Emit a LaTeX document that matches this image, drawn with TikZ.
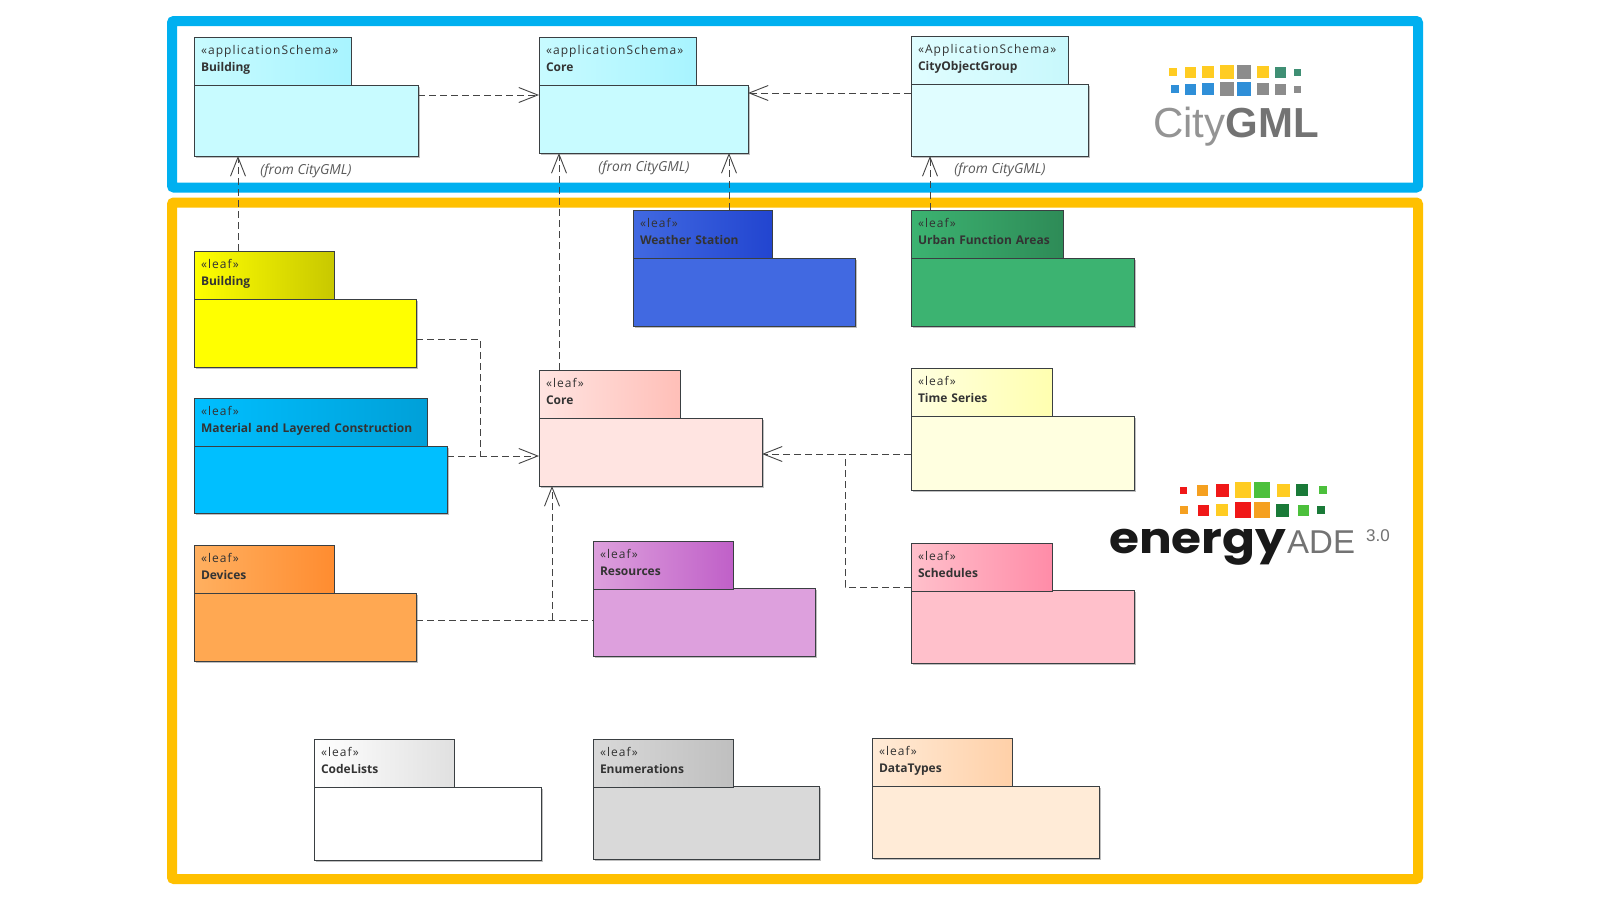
\documentclass[tikz,border=0pt]{standalone}
\usepackage{fontspec}
\setmainfont{Open Sans}
\newfontfamily\logofont{Poppins}
\newfontfamily\cgfont{Liberation Sans}
\newfontfamily\stereofont[LetterSpace=9]{Open Sans}
\usepackage{xcolor}
\usetikzlibrary{arrows.meta,positioning,shadows}
\definecolor{frameblue}{HTML}{00B0F0}
\definecolor{frameorange}{HTML}{FFC000}
\definecolor{pkgline}{HTML}{3A3F42}
\definecolor{dashline}{HTML}{444444}
\definecolor{schemacyan}{HTML}{C8FBFF}
\definecolor{schemaend}{HTML}{A8F4FF}
\definecolor{groupcyan}{HTML}{E0FDFF}
\definecolor{groupend}{HTML}{C8F8FC}
\definecolor{leafyellow}{HTML}{FFFF00}
\definecolor{leafyellowend}{HTML}{C8C800}
\definecolor{cgyellow}{HTML}{FFCC22}
\definecolor{cgblue}{HTML}{2F8FD8}
\definecolor{cggray}{HTML}{8C8C8C}
\definecolor{cggreen}{HTML}{3F8F74}
\definecolor{eared}{HTML}{F01818}
\definecolor{eaorange}{HTML}{F5A020}
\definecolor{eayellow}{HTML}{FFCC22}
\definecolor{eagreen}{HTML}{4CC03C}
\definecolor{eadark}{HTML}{1A7A38}
\tikzset{
  frame/.style={draw, line width=10pt, rounded corners=2pt},
  pkgbody/.style={draw=pkgline, line width=1pt, rectangle, anchor=north west, inner sep=0pt, outer sep=0pt,
                  drop shadow={shadow xshift=1.5pt, shadow yshift=-1.5pt, fill=black, opacity=.25}},
  pkgtab/.style={draw=pkgline, line width=1pt, rectangle, anchor=north west, inner xsep=7pt, outer sep=0pt,
                 inner ysep=0pt, minimum height=48pt, align=left, text depth=22pt,
                 font=\fontsize{12}{17}\selectfont, text=black!80},
  fromlabel/.style={font=\fontsize{13.8}{15}\selectfont\itshape, text=black!65},
  dep/.style={draw=dashline, line width=1pt, dash pattern=on 7pt off 4pt},
  deparrow/.style={dep, -{Straight Barb[length=19pt, width=15pt, line width=.9pt]}},
}
\begin{document}
\begin{tikzpicture}[x=1pt, y=-1pt]
  \useasboundingbox (0,0) rectangle (1600,900);
  \fill[white] (0,0) rectangle (1600,900);
  % frames
  \draw[frame, frameblue]   (172,21) rectangle (1418,187.5);
  \draw[frame, frameorange] (172,202.5) rectangle (1418,879);
  % application schemas
  \node[pkgbody, minimum width=224pt, minimum height=71pt, fill=schemacyan] (bBldS) at (194,85) {};
  \node[pkgtab, text width=143pt, left color=schemacyan, right color=schemaend] (tBldS) at (194,37) {{\stereofont «applicationSchema»}\\ \textbf{Building}};
  \node[pkgbody, minimum width=209pt, minimum height=68pt, fill=schemacyan] (bCoreS) at (539,85) {};
  \node[pkgtab, text width=143pt, left color=schemacyan, right color=schemaend] (tCoreS) at (539,37) {{\stereofont «applicationSchema»}\\ \textbf{Core}};
  \node[pkgbody, minimum width=177pt, minimum height=72pt, fill=groupcyan] (bCogS) at (911,84) {};
  \node[pkgtab, text width=143pt, left color=groupcyan, right color=groupend] (tCogS) at (911,36) {{\stereofont «ApplicationSchema»}\\ \textbf{CityObjectGroup}};
  \node[fromlabel] (fBld)  at (306,171) {(from CityGML)};
  \node[fromlabel] (fCore) at (644,168) {(from CityGML)};
  \node[fromlabel] (fCog)  at (1000,170) {(from CityGML)};
  % leaves, left column
  \node[pkgbody, minimum width=222pt, minimum height=68pt, fill=leafyellow] (bBld) at (194,299) {};
  \node[pkgtab, text width=126pt, left color=leafyellow, right color=leafyellowend] (tBld) at (194,251) {{\stereofont «leaf»}\\ \textbf{Building}};
  \node[pkgbody, minimum width=253pt, minimum height=67pt, fill={rgb,255:red,0;green,191;blue,255}] (bMat) at (194,446) {};
  \node[pkgtab, text width=219pt, left color={rgb,255:red,0;green,191;blue,255}, right color={rgb,255:red,0;green,160;blue,216}] (tMat) at (194,398) {{\stereofont «leaf»}\\ \textbf{Material and Layered Construction}};
  \node[pkgbody, minimum width=222pt, minimum height=68pt, fill={rgb,255:red,255;green,168;blue,82}] (bDev) at (194,593) {};
  \node[pkgtab, text width=126pt, left color={rgb,255:red,255;green,176;blue,96}, right color={rgb,255:red,255;green,140;blue,48}] (tDev) at (194,545) {{\stereofont «leaf»}\\ \textbf{Devices}};
  % leaves, middle column
  \node[pkgbody, minimum width=223pt, minimum height=68pt, fill={rgb,255:red,255;green,228;blue,225}] (bCore) at (539,418) {};
  \node[pkgtab, text width=127pt, left color={rgb,255:red,255;green,228;blue,225}, right color={rgb,255:red,255;green,191;blue,184}] (tCore) at (539,370) {{\stereofont «leaf»}\\ \textbf{Core}};
  \node[pkgbody, minimum width=222pt, minimum height=68pt, fill={rgb,255:red,65;green,105;blue,225}] (bWea) at (633,258) {};
  \node[pkgtab, text width=125pt, left color={rgb,255:red,65;green,105;blue,225}, right color={rgb,255:red,34;green,69;blue,208}] (tWea) at (633,210) {{\stereofont «leaf»}\\ \textbf{Weather Station}};
  \node[pkgbody, minimum width=222pt, minimum height=68pt, fill={rgb,255:red,221;green,160;blue,221}] (bRes) at (593,588) {};
  \node[pkgtab, text width=126pt, left color={rgb,255:red,221;green,160;blue,221}, right color={rgb,255:red,192;green,96;blue,200}] (tRes) at (593,541) {{\stereofont «leaf»}\\ \textbf{Resources}};
  % leaves, right column
  \node[pkgbody, minimum width=223pt, minimum height=68pt, fill={rgb,255:red,60;green,179;blue,113}] (bUrb) at (911,258) {};
  \node[pkgtab, text width=138pt, left color={rgb,255:red,60;green,179;blue,113}, right color={rgb,255:red,46;green,139;blue,87}] (tUrb) at (911,210) {{\stereofont «leaf»}\\ \textbf{Urban Function Areas}};
  \node[pkgbody, minimum width=223pt, minimum height=74pt, fill={rgb,255:red,255;green,255;blue,224}] (bTim) at (911,416) {};
  \node[pkgtab, text width=127pt, left color={rgb,255:red,255;green,255;blue,224}, right color={rgb,255:red,255;green,255;blue,176}] (tTim) at (911,368) {{\stereofont «leaf»}\\ \textbf{Time Series}};
  \node[pkgbody, minimum width=223pt, minimum height=73pt, fill={rgb,255:red,255;green,192;blue,203}] (bSch) at (911,590) {};
  \node[pkgtab, text width=127pt, left color={rgb,255:red,255;green,192;blue,203}, right color={rgb,255:red,255;green,140;blue,168}] (tSch) at (911,543) {{\stereofont «leaf»}\\ \textbf{Schedules}};
  % leaves, bottom row
  \node[pkgbody, minimum width=227pt, minimum height=73pt, fill=white] (bCod) at (314,787) {};
  \node[pkgtab, text width=126pt, left color=white, right color=black!12] (tCod) at (314,739) {{\stereofont «leaf»}\\ \textbf{CodeLists}};
  \node[pkgbody, minimum width=226pt, minimum height=73pt, fill=black!15] (bEnu) at (593,786) {};
  \node[pkgtab, text width=126pt, left color=black!15, right color=black!25] (tEnu) at (593,739) {{\stereofont «leaf»}\\ \textbf{Enumerations}};
  \node[pkgbody, minimum width=227pt, minimum height=72pt, fill={rgb,255:red,255;green,235;blue,215}] (bDat) at (872,786) {};
  \node[pkgtab, text width=126pt, left color={rgb,255:red,255;green,235;blue,215}, right color={rgb,255:red,255;green,208;blue,168}] (tDat) at (872,738) {{\stereofont «leaf»}\\ \textbf{DataTypes}};
  % junctions
  \coordinate (jBld) at (480,456);
  \coordinate (jDev) at (552,620);
  \coordinate (jSch) at (845,454);
  % edges
  \draw[deparrow] ([yshift=-10pt]bBldS.north east) -- ([yshift=-10pt]bCoreS.north west);
  \draw[deparrow] ([yshift=-9pt]bCogS.north west) -- ([yshift=-8pt]bCoreS.north east);
  \draw[deparrow] ([xshift=44pt]tBld.north west) -- ([xshift=44pt]bBldS.south west);
  \draw[deparrow] ([xshift=20pt]tCore.north west) -- ([xshift=20pt]bCoreS.south west);
  \draw[deparrow] ([xshift=96pt]tWea.north west) -- ([xshift=190pt]bCoreS.south west);
  \draw[deparrow] ([xshift=19pt]tUrb.north west) -- ([xshift=19pt]bCogS.south west);
  \draw[dep] ([yshift=-40pt]bBld.north east) -| (jBld);
  \draw[deparrow] ([yshift=-10pt]bMat.north east) -- ([yshift=-38pt]bCore.north west);
  \draw[dep] ([yshift=-27pt]bDev.north east) -- ([yshift=-32pt]bRes.north west);
  \draw[deparrow] (jDev) -- ([xshift=13pt]bCore.south west);
  \draw[deparrow] ([yshift=-38pt]bTim.north west) -- ([yshift=-36pt]bCore.north east);
  \draw[dep] ([yshift=3pt]bSch.north west) -| (jSch);
  % CityGML logo
  \foreach \x/\s/\c in {1173/8/cgyellow,1190/11/cgyellow,1208/12/cgyellow,1227/14/cgyellow,1244/14/cggray,1263/12/cgyellow,1280/11/cggreen,1297/7/cggreen}
    \fill[\c] (\x-\s/2,72-\s/2) rectangle (\x+\s/2,72+\s/2);
  \foreach \x/\s/\c in {1175/8/cgblue,1190/11/cgblue,1208/12/cgblue,1227/14/cggray,1244/14/cgblue,1263/12/cggray,1280/11/cggray,1297/7/cggray}
    \fill[\c] (\x-\s/2,89-\s/2) rectangle (\x+\s/2,89+\s/2);
  \node[anchor=base west, inner sep=0pt, font=\cgfont\fontsize{42}{42}\selectfont, text=black!42] (cgName) at (1153,137) {City\textbf{\textcolor{black!55}{GML}}};
  % energyADE logo
  \foreach \x/\s/\c in {1183/7/eared,1202/11/eaorange,1222/13/eared,1243/16/eayellow,1262/16/eagreen,1283/13/eayellow,1302/12/eadark,1323/8/eagreen}
    \fill[\c] (\x-\s/2,490-\s/2) rectangle (\x+\s/2,490+\s/2);
  \foreach \x/\s/\c in {1184/8/eaorange,1203/11/eared,1222/12/eayellow,1243/16/eared,1262/16/eaorange,1282/13/eadark,1303/11/eagreen,1321/8/eadark}
    \fill[\c] (\x-\s/2,510-\s/2) rectangle (\x+\s/2,510+\s/2);
  \node[anchor=base west, inner sep=0pt, font=\logofont\bfseries\fontsize{43}{43}\selectfont, text=black!90] (eaName) at (1109,553) {\scalebox{1.13}[1]{energy}};
  \node[anchor=base west, inner sep=0pt, font=\cgfont\fontsize{33}{33}\selectfont, text=black!55] (eaAde) at (1287,553) {ADE};
  \node[anchor=base west, inner sep=0pt, font=\cgfont\fontsize{17}{17}\selectfont, text=black!55] (eaVer) at (1366,541) {3.0};
\end{tikzpicture}
\end{document}
